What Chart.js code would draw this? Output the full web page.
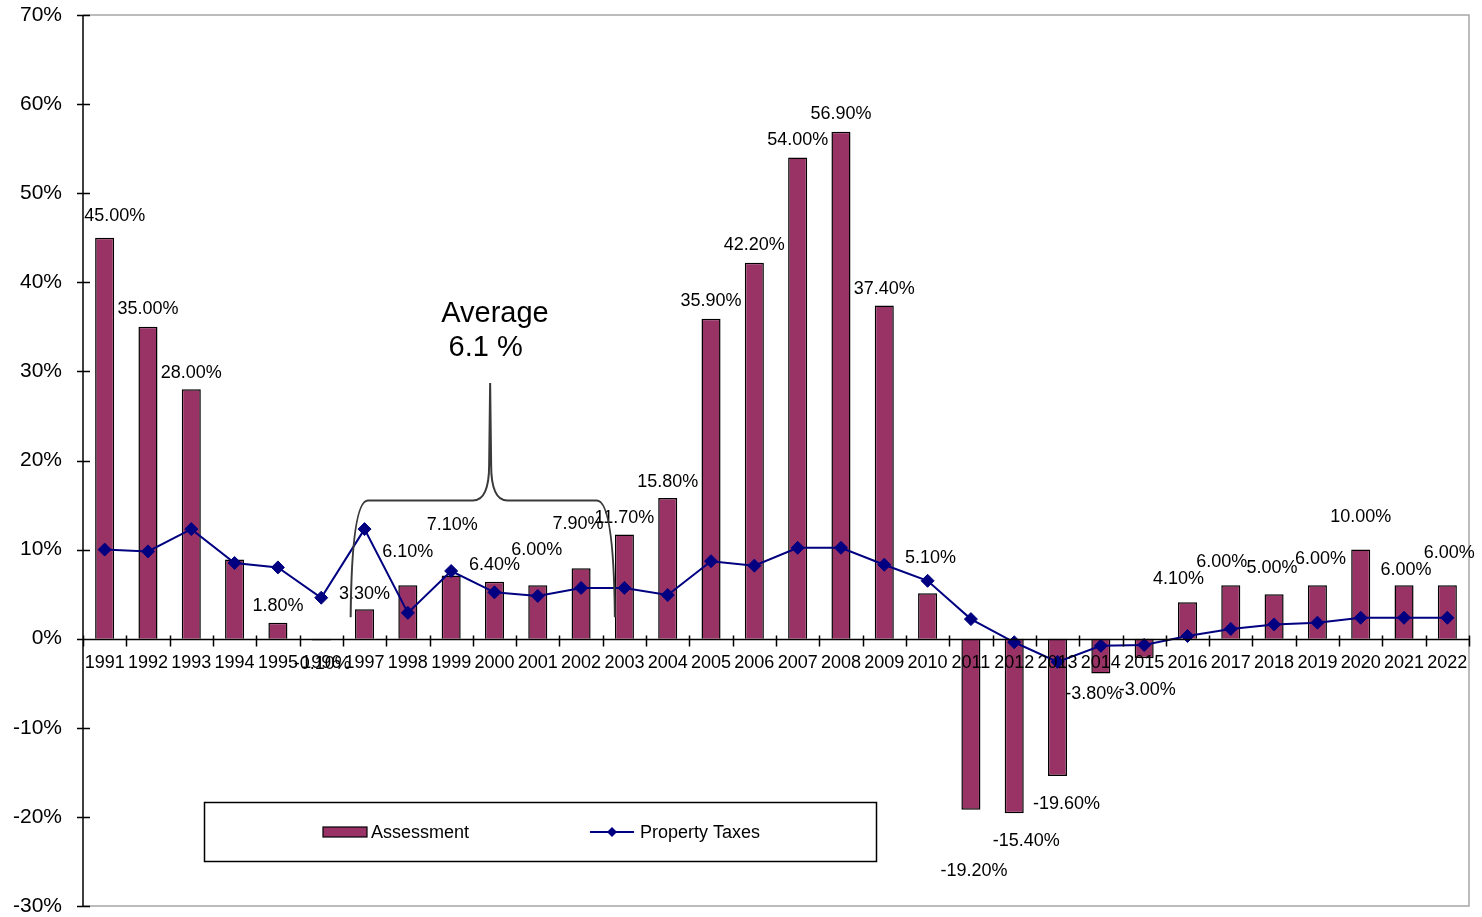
<!DOCTYPE html>
<html><head><meta charset="utf-8">
<script src="https://cdn.jsdelivr.net/npm/chart.js@4"></script>
<style>html,body{margin:0;padding:0;background:#fff}canvas{display:block}</style>
</head><body>
<canvas id="c" width="1482" height="917"></canvas>
<script>
// ---------- DATA ----------
const years = ['1991','1992','1993','1994','1995','1996','1997','1998','1999','2000','2001','2002','2003','2004','2005','2006','2007','2008','2009','2010','2011','2012','2013','2014','2015','2016','2017','2018','2019','2020','2021','2022'];
const assessment = [45.0,35.0,28.0,8.9,1.8,-0.2,3.3,6.0,7.1,6.4,6.0,7.9,11.7,15.8,35.9,42.2,54.0,56.9,37.4,5.1,-19.2,-19.6,-15.4,-3.9,-2.2,4.1,6.0,5.0,6.0,10.0,6.0,6.0];
const propertyTaxes = [10.0,9.8,12.3,8.5,8.0,4.6,12.3,2.9,7.6,5.2,4.8,5.7,5.7,4.9,8.7,8.2,10.2,10.2,8.3,6.5,2.2,-0.4,-2.6,-0.8,-0.7,0.3,1.1,1.6,1.8,2.35,2.35,2.35];
const assessmentLabels = ['45.00%','35.00%','28.00%',null,'1.80%','-0.10%','3.30%','6.10%','7.10%','6.40%','6.00%','7.90%','11.70%','15.80%','35.90%','42.20%','54.00%','56.90%','37.40%','5.10%','-19.20%','-15.40%','-19.60%','-3.80%','-3.00%','4.10%','6.00%','5.00%','6.00%','10.00%','6.00%','6.00%'];
const seriesNames = ['Assessment','Property Taxes'];
const yMin = -30, yMax = 70, yStep = 10;
const annotationLines = ['Average', '6.1 %'];

// ---------- STYLE ----------
const FONT = "'Liberation Sans', Arial, Helvetica, sans-serif";
const BAR_COLOR = '#993366';
const LINE_COLOR = '#000080';
const LABEL_SIZE = 18;
// label nudges in pixels (dx, dy) from bar end, label centre
const labelNudge = [[10,-23],[0,-19],[0,-18],[0,0],[0,-18],[1,22],[0,-17],[0,-35],[1,-52],[0,-18],[-1,-37],[-3,-46],[0,-18],[0,-17],[0,-19],[0,-19],[0,-19],[0,-19],[0,-18],[3,-37],[3,60],[12,26],[9,27],[-7,19],[3,30],[-9,-25],[-9,-25],[-2,-28],[3,-28],[0,-34],[2,-17],[2,-34]];

const decor = {
  id: 'decor',
  beforeDatasetsDraw(chart) {
    const {ctx, chartArea: ca} = chart;
    ctx.save();
    ctx.strokeStyle = '#a6a6a6'; ctx.lineWidth = 1.5;
    ctx.beginPath();
    ctx.moveTo(ca.left, ca.top); ctx.lineTo(ca.right, ca.top);
    ctx.lineTo(ca.right, ca.bottom); ctx.lineTo(ca.left, ca.bottom);
    ctx.stroke();
    ctx.restore();
  },
  afterDatasetsDraw(chart) {
    const {ctx, chartArea: ca, scales: {x, y}} = chart;
    ctx.save();
    // axes
    ctx.strokeStyle = '#000'; ctx.lineWidth = 1.5;
    ctx.beginPath();
    ctx.moveTo(ca.left, ca.top); ctx.lineTo(ca.left, ca.bottom);
    for (let v = yMin; v <= yMax; v += yStep) {
      const py = Math.round(y.getPixelForValue(v)) + 0.5;
      ctx.moveTo(ca.left - 6, py); ctx.lineTo(ca.left + 7, py);
    }
    const y0 = Math.round(y.getPixelForValue(0)) + 0.5;
    ctx.moveTo(ca.left, y0); ctx.lineTo(ca.right, y0);
    for (let i = 0; i <= years.length; i++) {
      const px = Math.round(x.getPixelForValue(i - 0.5)) + 0.5;
      ctx.moveTo(px, y0 - 4); ctx.lineTo(px, y0 + 7);
    }
    ctx.stroke();

    // data labels
    const meta = chart.getDatasetMeta(1);
    ctx.fillStyle = '#000';
    ctx.font = LABEL_SIZE + 'px ' + FONT;
    ctx.textAlign = 'center'; ctx.textBaseline = 'alphabetic';
    meta.data.forEach((bar, i) => {
      const t = assessmentLabels[i];
      if (!t) return;
      const [dx, dy] = labelNudge[i];
      ctx.fillText(t, bar.x + dx, bar.y + dy + LABEL_SIZE * 0.36);
    });

    // brace (category index / value units)
    const bx = v => x.getPixelForValue(v), by = v => y.getPixelForValue(v);
    const L = bx(5.68), Lc = bx(6.08), M0 = bx(8.5), T = bx(8.9), M1 = bx(9.3), Rc = bx(11.36), R = bx(11.78);
    const yE = by(2.4), yB = by(15.5), yT = by(28.7), yK = by(19.5);
    ctx.strokeStyle = '#3a3a3a'; ctx.lineWidth = 2;
    ctx.beginPath();
    ctx.moveTo(L, yE);
    ctx.quadraticCurveTo(L + 1, yB, Lc, yB);
    ctx.lineTo(M0, yB);
    ctx.quadraticCurveTo(T - 1, yB, T - 1, yK);
    ctx.lineTo(T, yT);
    ctx.lineTo(T + 1, yK);
    ctx.quadraticCurveTo(T + 1, yB, M1, yB);
    ctx.lineTo(Rc, yB);
    ctx.quadraticCurveTo(R - 1, yB, R, yE);
    ctx.stroke();

    // annotation text
    ctx.fillStyle = '#000';
    ctx.font = '29px ' + FONT;
    ctx.textAlign = 'left';
    ctx.fillText(annotationLines[0], bx(7.77), by(35.6));
    ctx.fillText(annotationLines[1], bx(7.94), by(31.7));
    ctx.restore();
  },
  afterDraw(chart) {
    const {ctx} = chart;
    ctx.save();
    // legend box
    const lx = 204.5, ly = 802.5, lw = 672, lh = 59;
    ctx.fillStyle = '#fff'; ctx.fillRect(lx, ly, lw, lh);
    ctx.strokeStyle = '#000'; ctx.lineWidth = 1.5;
    ctx.strokeRect(lx, ly, lw, lh);
    const cy = ly + lh / 2;
    ctx.fillStyle = BAR_COLOR; ctx.fillRect(323, cy - 5, 44, 10);
    ctx.lineWidth = 1.2; ctx.strokeRect(323, cy - 5, 44, 10);
    ctx.fillStyle = '#000'; ctx.font = '18px ' + FONT;
    ctx.textAlign = 'left'; ctx.textBaseline = 'alphabetic';
    ctx.fillText(seriesNames[0], 371, cy + 18 * 0.36);
    ctx.strokeStyle = LINE_COLOR; ctx.lineWidth = 2;
    ctx.beginPath(); ctx.moveTo(590, cy); ctx.lineTo(634, cy); ctx.stroke();
    ctx.fillStyle = LINE_COLOR;
    ctx.beginPath(); ctx.moveTo(612, cy - 5); ctx.lineTo(617, cy); ctx.lineTo(612, cy + 5); ctx.lineTo(607, cy); ctx.closePath(); ctx.fill();
    ctx.fillStyle = '#000';
    ctx.fillText(seriesNames[1], 640, cy + 18 * 0.36);
    ctx.restore();
  }
};

new Chart(document.getElementById('c'), {
  type: 'bar',
  data: {
    labels: years,
    datasets: [
      {
        type: 'line', label: seriesNames[1], data: propertyTaxes, order: 0,
        borderColor: LINE_COLOR, backgroundColor: LINE_COLOR, borderWidth: 2,
        pointStyle: 'rectRot', pointRadius: 6.5, pointBackgroundColor: LINE_COLOR,
        pointBorderColor: LINE_COLOR, pointBorderWidth: 1, tension: 0, fill: false
      },
      {
        type: 'bar', label: seriesNames[0], data: assessment, order: 1,
        backgroundColor: BAR_COLOR, borderColor: '#000', borderWidth: 1.5,
        barPercentage: 0.44, categoryPercentage: 1.0
      }
    ]
  },
  options: {
    responsive: false,
    animation: false,
    events: [],
    layout: { padding: { top: 15, right: 13, bottom: 11, left: 0 } },
    plugins: { legend: { display: false }, tooltip: { enabled: false } },
    scales: {
      x: {
        type: 'category', position: { y: 0 }, offset: true,
        grid: { display: false }, border: { display: false },
        ticks: { z: 1, color: '#000', font: { family: FONT, size: 18 }, maxRotation: 0, autoSkip: false, padding: 6 },
        afterFit: s => { s.paddingLeft = 0; s.paddingRight = 0; }
      },
      y: {
        min: yMin, max: yMax,
        grid: { display: false }, border: { display: false },
        ticks: { stepSize: yStep, color: '#000', font: { family: FONT, size: 21 }, padding: 13,
          callback: v => v + '%' },
        afterFit: s => { s.width = 83; s.paddingTop = 0; s.paddingBottom = 0; }
      }
    }
  },
  plugins: [decor]
});
</script>
</body></html>
